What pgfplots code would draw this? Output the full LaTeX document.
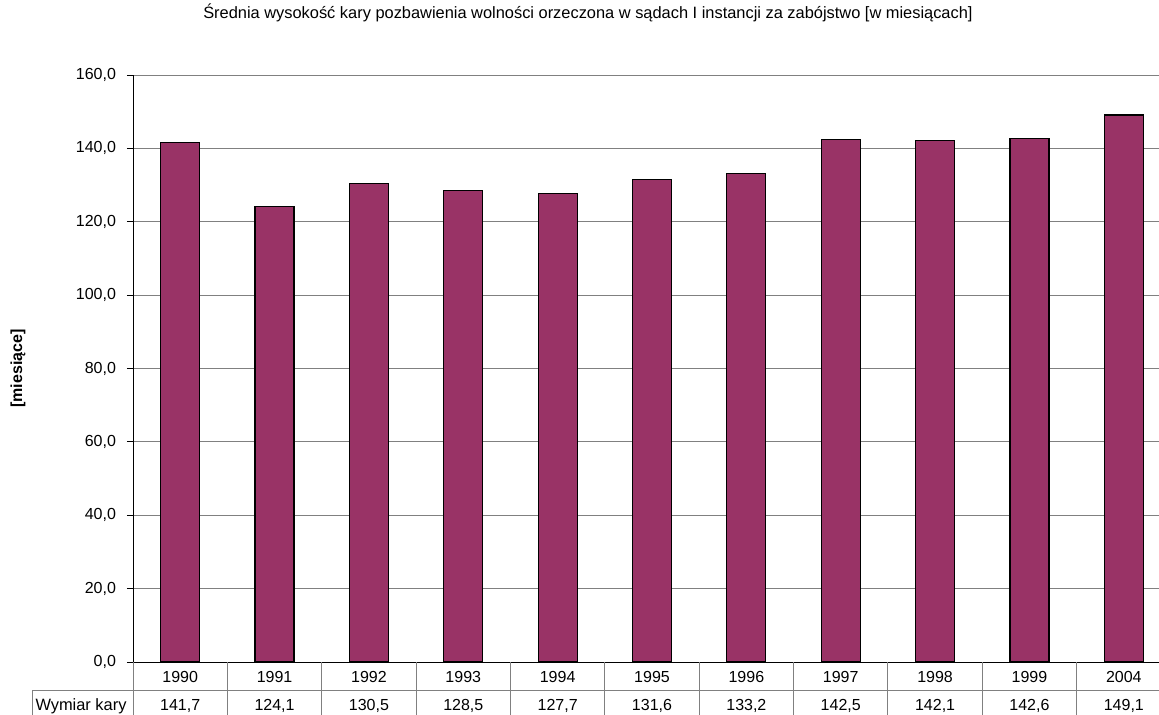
\documentclass[border=0pt]{standalone}
\usepackage{fontspec}
\setmainfont{Liberation Sans}
\usepackage{pgfplots}
\pgfplotsset{compat=1.18}
\definecolor{barc}{HTML}{993366}
\definecolor{gridc}{HTML}{808080}
\begin{document}
\begin{tikzpicture}
\path[use as bounding box] (0,0) rectangle (579.5pt,357pt);
\begin{axis}[
  at={(66.5pt,26pt)}, anchor=south west,
  scale only axis, width=519pt, height=293.5pt,
  xmin=-0.5, xmax=10.5, ymin=0, ymax=160,
  ybar, bar width=19.5pt,
  clip=false,
  axis x line*=bottom, axis y line*=left,
  axis line style={black, line width=0.5pt, -},
  ytick={0,20,...,160},
  ymajorgrids, grid style={gridc, line width=0.5pt},
  tick align=outside, major tick length=3pt,
  ytick style={black, line width=0.5pt},
  xtick={0,...,10},
  xticklabels={1990,1991,1992,1993,1994,1995,1996,1997,1998,1999,2004},
  xtick style={draw=none},
  xticklabel style={anchor=center, yshift=-4.5pt, font=\fontsize{8}{9}\selectfont},
  yticklabel style={font=\fontsize{8}{9}\selectfont, xshift=-2pt},
  /pgf/number format/.cd, fixed, fixed zerofill, precision=1, use comma, assume math mode=true,
  /pgfplots/.cd,
  title={Średnia wysokość kary pozbawienia wolności orzeczona w sądach I instancji za zabójstwo [w miesiącach]},
  title style={at={(axis description cs:0.4383,1.0852)}, anchor=center, font=\fontsize{8.2}{9}\selectfont},
  ylabel={[miesiące]},
  ylabel style={at={(axis description cs:-0.1108,0.5)}, anchor=center, font=\fontsize{8}{9}\selectfont\bfseries},
]
\addplot[fill=barc, draw=black, line width=0.6pt] coordinates {
  (0,141.7) (1,124.1) (2,130.5) (3,128.5) (4,127.7) (5,131.6)
  (6,133.2) (7,142.5) (8,142.1) (9,142.6) (10,149.1)
};
\end{axis}
% data table below the chart (axis left 66.5pt, bottom 26pt, column 47.1818pt)
\draw[gridc, line width=0.5pt] (16pt,12pt) -- (590pt,12pt);
\draw[gridc, line width=0.5pt] (16pt,12pt) -- (16pt,-5pt);
\foreach \i in {0,...,11}{
  \draw[gridc, line width=0.5pt] ({66.5pt+\i*47.1818pt},26pt) -- ({66.5pt+\i*47.1818pt},-5pt);
}
\node[font=\fontsize{8.2}{9}\selectfont] at (40.5pt,4pt) {Wymiar kary};
\foreach \i/\v in {0/{141,7},1/{124,1},2/{130,5},3/{128,5},4/{127,7},5/{131,6},6/{133,2},7/{142,5},8/{142,1},9/{142,6},10/{149,1}}{
  \node[font=\fontsize{8}{9}\selectfont] at ({66.5pt+(\i+0.5)*47.1818pt},4pt) {\v};
}
\end{tikzpicture}
\end{document}
